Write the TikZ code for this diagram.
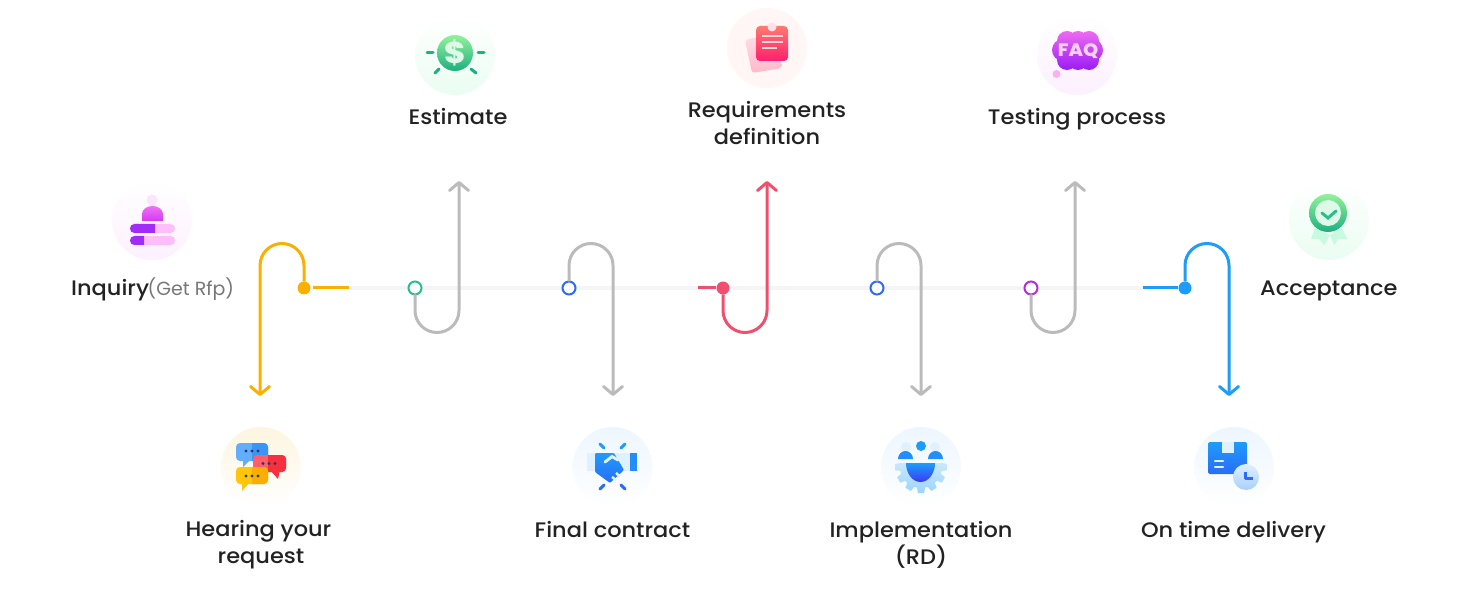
\documentclass[tikz,border=0pt]{standalone}
\usepackage{fontspec}
\setmainfont{Poppins}[UprightFont=*-Medium,FakeStretch=1.07]
\newfontfamily\GreyFont{Poppins}
\usetikzlibrary{arrows.meta,calc,positioning}
\definecolor{TextInk}{HTML}{222222}
\definecolor{TextGrey}{HTML}{777777}
\definecolor{TrackGrey}{HTML}{F5F5F5}
\definecolor{PathGrey}{HTML}{BBBBBB}
\definecolor{PathYellow}{HTML}{F9B000}
\definecolor{PathGreen}{HTML}{27C08C}
\definecolor{PathBlue}{HTML}{2A6CF8}
\definecolor{PathRed}{HTML}{F0506E}
\definecolor{PathPurple}{HTML}{B030E0}
\definecolor{PathSky}{HTML}{1E9CFA}
\definecolor{PalePink}{HTML}{FDF0FF}
\definecolor{PaleBlue}{HTML}{DFF0FF}
\definecolor{PaleGreen}{HTML}{EAFDF2}
\definecolor{PaleSun}{HTML}{FDF5E0}
\definecolor{PaleRose}{HTML}{FFF6F5}
\definecolor{SoftBlue}{HTML}{EDF6FF}
\definecolor{LeafTop}{HTML}{93F29A}
\definecolor{LeafBottom}{HTML}{1DB080}
\definecolor{OrchidTop}{HTML}{F070F5}
\definecolor{OrchidBottom}{HTML}{D03CF0}
\definecolor{GrapeBar}{HTML}{A02CF5}
\definecolor{PetalBar}{HTML}{FFBDFA}
\definecolor{CoralTop}{HTML}{FF7A6E}
\definecolor{CoralBottom}{HTML}{FF1F6E}
\definecolor{SheetTop}{HTML}{FFE0E8}
\definecolor{SheetBottom}{HTML}{FFB8CC}
\definecolor{SheetLine}{HTML}{FFD5D8}
\definecolor{FaqTop}{HTML}{EF6BF0}
\definecolor{FaqBottom}{HTML}{9A1CF5}
\definecolor{FaqText}{HTML}{FCD0FA}
\definecolor{FaqDot}{HTML}{FBB0F0}
\definecolor{RibbonMint}{HTML}{C8FAE2}
\definecolor{BadgeInner}{HTML}{DFF9E8}
\definecolor{BubbleBlueA}{HTML}{62AEFC}
\definecolor{BubbleBlueB}{HTML}{3A95F8}
\definecolor{BubbleRedA}{HTML}{FF5E6A}
\definecolor{BubbleRedB}{HTML}{F8303E}
\definecolor{BubbleSunA}{HTML}{FFC60A}
\definecolor{BubbleSunB}{HTML}{FCAE00}
\definecolor{BubbleDot}{HTML}{2A3A5A}
\definecolor{GearBottom}{HTML}{9AD5FC}
\definecolor{DeepBlue}{HTML}{3A3AF5}
\definecolor{ClockBottom}{HTML}{A8D0F8}
\begin{document}
\begin{tikzpicture}[
        x=1pt, y=-1pt,
        Halo/.style 2 args={circle, minimum size=80pt, inner sep=0pt, top color=#1, bottom color=#2},
        StepLabel/.style={font=\fontsize{21}{27}\selectfont, text=TextInk, align=center, inner sep=0pt},
        StepPath/.style={line width=3pt, -{Straight Barb[length=8pt,width=19pt,line width=3pt,round]}},
        StubLine/.style={line width=3pt},
        SolidDot/.style={circle, fill=#1, minimum size=13pt, inner sep=0pt, outer sep=0pt},
        OpenDot/.style={circle, draw=#1, fill=white, line width=2pt, minimum size=13pt, inner sep=0pt, outer sep=0pt},
        IconLine/.style={line width=3pt, line cap=round},
    ]
    \useasboundingbox (0,0) rectangle (1480,612);

    % track
    \coordinate (StubInquiry) at (349,288);
    \coordinate (StubRed) at (698,288);
    \coordinate (StubAccept) at (1143,288);
    \draw[TrackGrey, line width=4pt] (StubInquiry) -- (StubAccept);

    % dots
    \node [SolidDot=PathYellow] (DotInquiry) at (304,288) {};
    \node [OpenDot=PathGreen] (DotEstimate) at (415,288) {};
    \node [OpenDot=PathBlue] (DotContract) at (569,288) {};
    \node [SolidDot=PathRed] (DotRequire) at (723,288) {};
    \node [OpenDot=PathBlue] (DotBuild) at (877,288) {};
    \node [OpenDot=PathPurple] (DotTesting) at (1031,288) {};
    \node [SolidDot=PathSky] (DotDelivery) at (1185,288) {};

    % arrow ends
    \coordinate (TipHearing) at (260,396);
    \coordinate (TipEstimate) at (459,181);
    \coordinate (TipContract) at (613,396);
    \coordinate (TipRequire) at (767,181);
    \coordinate (TipBuild) at (921,396);
    \coordinate (TipTesting) at (1075,181);
    \coordinate (TipDelivery) at (1229,396);

    % connectors
    \draw[PathYellow, StubLine] ($(DotInquiry.east)+(2,0)$) -- (StubInquiry);
    \draw[PathRed, StubLine] (StubRed) -- ($(DotRequire.west)+(-1,0)$);
    \draw[PathSky, StubLine] (StubAccept) -- ($(DotDelivery.west)+(-1,0)$);
    \draw[PathYellow, StepPath] (DotInquiry.north) -- ++(0,-16) arc[start angle=0, end angle=-180, radius=22] -- (TipHearing);
    \draw[PathGrey, StepPath] (DotEstimate.south) -- ++(0,16) arc[start angle=180, end angle=0, radius=22] -- (TipEstimate);
    \draw[PathGrey, StepPath] (DotContract.north) -- ++(0,-16) arc[start angle=180, end angle=360, radius=22] -- (TipContract);
    \draw[PathRed, StepPath] (DotRequire.south) -- ++(0,16) arc[start angle=180, end angle=0, radius=22] -- (TipRequire);
    \draw[PathGrey, StepPath] (DotBuild.north) -- ++(0,-16) arc[start angle=180, end angle=360, radius=22] -- (TipBuild);
    \draw[PathGrey, StepPath] (DotTesting.south) -- ++(0,16) arc[start angle=180, end angle=0, radius=22] -- (TipTesting);
    \draw[PathSky, StepPath] (DotDelivery.north) -- ++(0,-16) arc[start angle=180, end angle=360, radius=22] -- (TipDelivery);

    % halos
    \node [Halo={white}{PalePink}] (HaloInquiry) at (152,220) {};
    \node [Halo={white}{PaleGreen}] (HaloEstimate) at (455,55) {};
    \node [Halo={PaleRose}{PaleRose}] (HaloRequire) at (767,48) {};
    \node [Halo={white}{PalePink}] (HaloTesting) at (1077,55) {};
    \node [Halo={white}{PaleGreen}] (HaloAccept) at (1329,220) {};
    \node [Halo={PaleSun}{white}] (HaloHearing) at (261,467) {};
    \node [Halo={SoftBlue}{white}] (HaloContract) at (612.5,467) {};
    \node [Halo={SoftBlue}{white}] (HaloBuild) at (921,467) {};
    \node [Halo={SoftBlue}{white}] (HaloDelivery) at (1234,467) {};

    % labels
    \node [StepLabel, anchor=base west] (LabelInquiry) at (71,295) {Inquiry\kern-1.5pt{\GreyFont\fontsize{19}{27}\selectfont\color{TextGrey}(Get Rfp)}};
    \node [StepLabel, anchor=base] (LabelEstimate) at (458,125) {Estimate};
    \node [StepLabel] (LabelRequire) at (767,123.5) {Requirements\\definition};
    \node [StepLabel, anchor=base] (LabelTesting) at (1077,125) {Testing process};
    \node [StepLabel, anchor=base west] (LabelAccept) at (1260,295) {Acceptance};
    \node [StepLabel] (LabelHearing) at (258.5,545) {Hearing your\\\hspace*{5pt}request};
    \node [StepLabel, anchor=base] (LabelContract) at (612.5,537) {Final contract};
    \node [StepLabel] (LabelBuild) at (921,544.5) {Implementation\\(RD)};
    \node [StepLabel, anchor=base] (LabelDelivery) at (1233.5,537) {On time delivery};

    % icon: inquiry
    \fill[PalePink!60!OrchidTop!40] (152,200) circle[radius=5.5];
    \shade[top color=OrchidTop, bottom color=OrchidBottom] (142,221) -- (142,214) arc[start angle=180, end angle=360, x radius=10.5, y radius=8] -- (163,221) -- cycle;
    \fill[PetalBar, rounded corners=4.5pt] (130,224) rectangle (175,233);
    \fill[PetalBar, rounded corners=4.5pt] (130,236) rectangle (175,245);
    \begin{scope}
        \clip (125,220) rectangle (155,234);
        \fill[GrapeBar, rounded corners=4.5pt] (130,224) rectangle (175,233);
    \end{scope}
    \begin{scope}
        \clip (125,235) rectangle (144,246);
        \fill[GrapeBar, rounded corners=4.5pt] (130,236) rectangle (175,245);
    \end{scope}

    % icon: estimate
    \shade[top color=LeafTop, bottom color=LeafBottom] (455,53) circle[radius=18];
    \node [text=BadgeInner, font=\fontsize{30}{30}\selectfont\bfseries, inner sep=0pt] (DollarSign) at (455,53) {\$};
    \foreach \Ax/\Ay/\Bx/\By in {427/53/433/53, 478/53/484/53, 435/73/439/69, 476/73/471/69}
        \draw[LeafBottom, IconLine] (\Ax,\Ay) -- (\Bx,\By);

    % icon: requirements
    \shade[top color=SheetTop, bottom color=SheetBottom, rounded corners=3pt] (745,40) -- (752,73) -- (782,68) -- (775,33) -- cycle;
    \shade[top color=CoralTop, bottom color=CoralBottom, rounded corners=4pt] (756,26) rectangle (788,61);
    \fill[SheetTop] (772,27) circle[radius=4.5];
    \draw[SheetLine, line width=2.5pt] (762,36) -- (783,36) (762,42) -- (783,42) (762,48) -- (777,48);

    % icon: faq
    \shade[top color=FaqTop, bottom color=FaqBottom] (1067,41) circle[radius=10] (1078,41) circle[radius=10] (1089,41) circle[radius=10]
        (1063,50) circle[radius=11] (1078,50) circle[radius=14] (1092,50) circle[radius=11]
        (1067,60) circle[radius=10] (1078,60) circle[radius=10] (1089,60) circle[radius=10];
    \node [text=FaqText, font=\fontsize{18}{18}\selectfont\bfseries, inner sep=0pt] (FaqMark) at (1078,51) {FAQ};
    \fill[FaqDot] (1056.5,74) circle[radius=4];

    % icon: acceptance
    \fill[RibbonMint] (1315,228) -- (1330,235) -- (1324,245) -- (1319,239) -- (1311,239) -- cycle;
    \fill[RibbonMint] (1330,235) -- (1342,228) -- (1347,239) -- (1338,239) -- (1334,245) -- cycle;
    \shade[top color=LeafTop, bottom color=LeafBottom] (1328,213) circle[radius=19];
    \fill[BadgeInner] (1328,213) circle[radius=13];
    \draw[PathGreen, line width=3pt, line cap=round] (1322,213) -- (1328,218) -- (1336,211);

    % icon: hearing
    \fill[BubbleBlueA] (243,467) -- (243,458) -- (252,458) -- cycle;
    \fill[BubbleBlueA, rounded corners=4pt] (236,443) rectangle (268,461);
    \begin{scope}
        \clip (252,440) rectangle (270,463);
        \fill[BubbleBlueB, rounded corners=4pt] (236,443) rectangle (268,461);
    \end{scope}
    \fill[BubbleRedB] (278,479) -- (270,470) -- (280,470) -- cycle;
    \fill[BubbleRedA, rounded corners=4pt] (253,455) rectangle (286,472);
    \begin{scope}
        \clip (268,453) rectangle (288,474);
        \fill[BubbleRedB, rounded corners=4pt] (253,455) rectangle (286,472);
    \end{scope}
    \fill[BubbleSunA] (242,491) -- (242,482) -- (250,482) -- cycle;
    \fill[BubbleSunA, rounded corners=4pt] (236,467) rectangle (268,484);
    \begin{scope}
        \clip (252,465) rectangle (270,486);
        \fill[BubbleSunB, rounded corners=4pt] (236,467) rectangle (268,484);
    \end{scope}
    \foreach \Dx/\Dy in {246/451, 252/451, 258/451, 263/463.5, 269/463.5, 275/463.5, 246/476, 252/476, 258/476}
        \fill[BubbleDot] (\Dx,\Dy) circle[radius=1.7];

    % icon: contract
    \fill[PaleBlue] (587,453) rectangle (630,471);
    \fill[PathSky!70!PathBlue] (630,453) rectangle (637,471);
    \shade[top color=PathSky, bottom color=PathBlue, rounded corners=1pt] (595,453) -- (614,453) -- (624,470) -- (610,483) -- (595,472) -- cycle;
    \draw[PaleBlue, line width=3pt, line cap=round] (605,462) -- (612,456.5) -- (618,460);
    \draw[PaleBlue, line width=2.5pt] (612,477) -- (616,480) (616,473) -- (620,476.5);
    \foreach \Ax/\Ay/\Bx/\By in {600/444/604/448, 625/444/621/448}
        \draw[PathSky, IconLine] (\Ax,\Ay) -- (\Bx,\By);
    \foreach \Ax/\Ay/\Bx/\By in {600/489/604/485, 625/489/621/485}
        \draw[PathBlue, IconLine] (\Ax,\Ay) -- (\Bx,\By);

    % icon: implementation
    \begin{scope}
        \clip (890,463) rectangle (952,500);
        \begin{scope}[shift={(921,467)}]
            \shade[top color=SoftBlue, bottom color=GearBottom] (-11:21) \foreach \Ang in {0,30,...,330} { -- (\Ang-11:21) -- (\Ang-7:26) -- (\Ang+7:26) -- (\Ang+11:21) } -- cycle;
        \end{scope}
    \end{scope}
    \shade[top color=PathSky, bottom color=DeepBlue] (906,463) arc[start angle=180, end angle=0, x radius=14.5, y radius=19] -- cycle;
    \fill[PaleBlue] (906,447) circle[radius=5] (935,447) circle[radius=5];
    \fill[PathSky!70!PathBlue] (898,459) arc[start angle=180, end angle=360, x radius=7.5, y radius=8] -- cycle;
    \fill[PathSky!70!PathBlue] (928,459) arc[start angle=180, end angle=360, x radius=7.5, y radius=8] -- cycle;
    \fill[PathSky] (921,446) circle[radius=5];

    % icon: delivery
    \shade[top color=PathSky, bottom color=PathBlue, rounded corners=1.5pt] (1208,442) rectangle (1247,474);
    \fill[PaleBlue] (1222,442) rectangle (1234,453);
    \draw[PaleBlue, line width=2.5pt, line cap=round] (1215,461) -- (1223,461) (1215,467) -- (1223,467);
    \shade[top color=PaleBlue, bottom color=ClockBottom] (1246,477) circle[radius=13];
    \draw[PathBlue, line width=3pt, line join=round] (1245,472) -- (1245,478) -- (1253,478);
\end{tikzpicture}
\end{document}
